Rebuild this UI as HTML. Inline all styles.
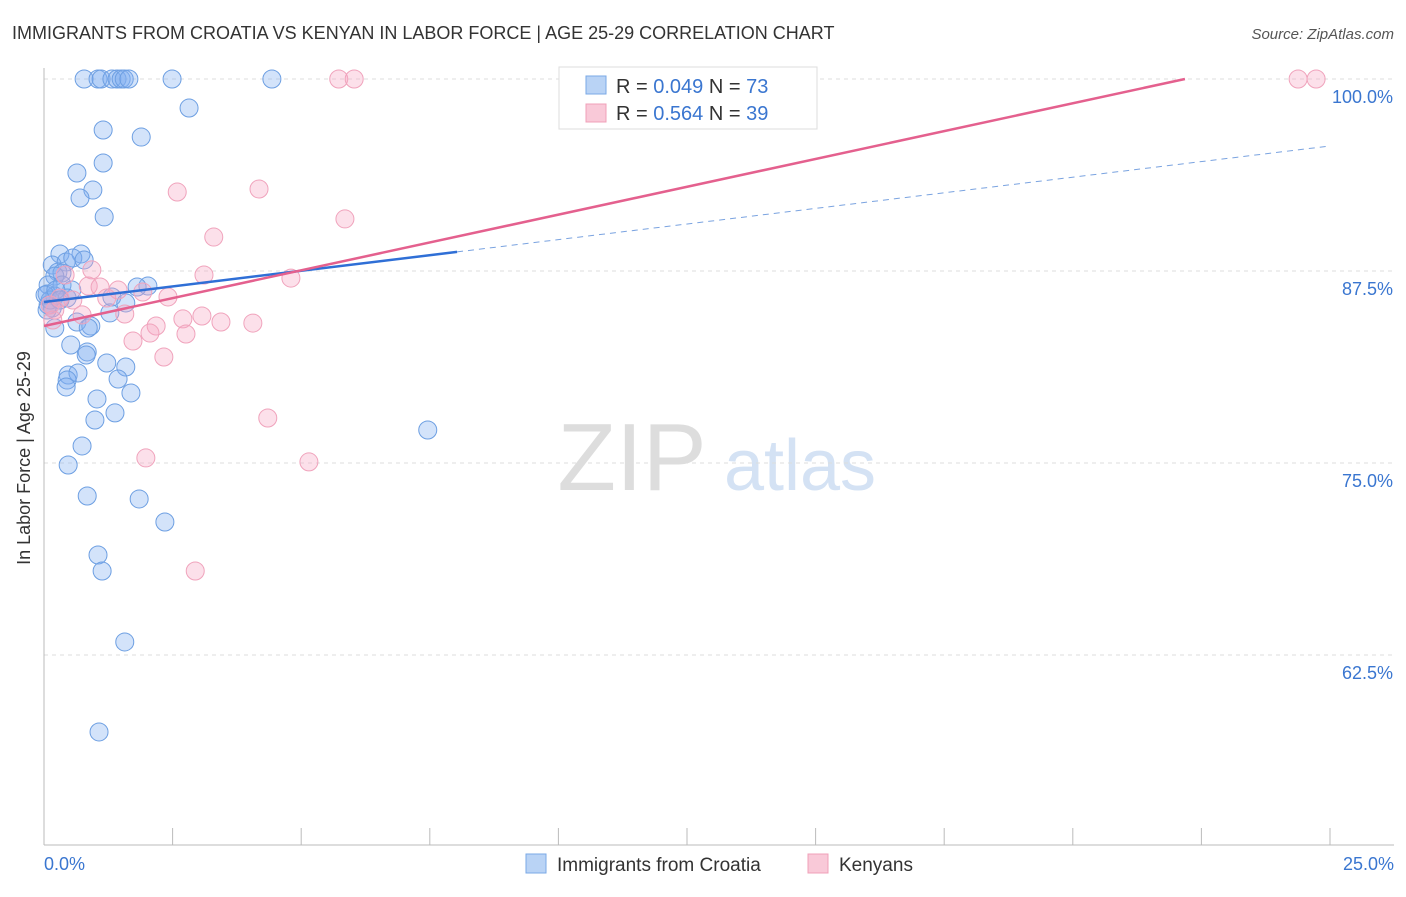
<!DOCTYPE html>
<html><head><meta charset="utf-8"><style>
body{margin:0;background:#fff;font-family:"Liberation Sans",sans-serif}
svg text{font-family:"Liberation Sans",sans-serif}
</style></head><body>
<svg id="chart" width="1406" height="892">
<text x="12" y="39" font-size="18" fill="#333">IMMIGRANTS FROM CROATIA VS KENYAN IN LABOR FORCE | AGE 25-29 CORRELATION CHART</text>
<text x="1394" y="39" font-size="15" fill="#555" font-style="italic" text-anchor="end">Source: ZipAtlas.com</text>
<text x="30" y="458" font-size="18" fill="#333" text-anchor="middle" transform="rotate(-90 30 458)">In Labor Force | Age 25-29</text>
<g>
<text x="632" y="490" font-size="96" fill="#ddd" text-anchor="middle" font-family="Liberation Serif">ZIP</text>
<text x="800" y="490" font-size="72" fill="#d4e2f4" text-anchor="middle">atlas</text>
</g>
<g id="grid"></g><g id="axes"></g><g id="pts"></g><g id="trends"></g>
<g>
<rect x="559" y="67" width="258" height="62" fill="#fff" stroke="#ddd"/>
<rect x="586" y="76" width="20" height="18" fill="#b9d3f5" stroke="#7aa8e6"/>
<text x="616" y="93" font-size="20" fill="#333">R = <tspan fill="#3a76d0">0.049</tspan>   N = <tspan fill="#3a76d0">73</tspan></text>
<rect x="586" y="104" width="20" height="18" fill="#f9c9d8" stroke="#f0a0b8"/>
<text x="616" y="120" font-size="20" fill="#333">R = <tspan fill="#3a76d0">0.564</tspan>   N = <tspan fill="#3a76d0">39</tspan></text>
</g>
<g>
<rect x="526" y="854" width="20" height="19" fill="#b9d3f5" stroke="#7aa8e6"/>
<text x="557" y="871" font-size="19" fill="#333">Immigrants from Croatia</text>
<rect x="808" y="854" width="20" height="19" fill="#f9c9d8" stroke="#f0a0b8"/>
<text x="839" y="871" font-size="19" fill="#333">Kenyans</text>
</g>
</svg>
<script>
const yTicks=[100,87.5,75,62.5];
const yTickLabels=["100.0%","87.5%","75.0%","62.5%"];
const xTickLabels=["0.0%","25.0%"];
const blueX=[0.78,1.05,1.11,1.32,1.42,1.50,1.56,1.65,2.49,4.43,2.82,1.15,1.89,1.15,0.64,0.95,0.70,1.17,0.31,0.72,0.16,0.43,0.56,0.78,0.27,0.35,0.21,0.08,0.35,0.54,2.02,1.81,0.06,0.21,0.45,1.32,1.59,0.08,0.16,1.28,0.21,0.64,0.91,0.86,0.52,0.84,0.82,1.22,1.59,0.47,0.66,0.45,1.44,0.43,1.69,1.03,1.38,0.99,0.74,0.47,7.46,0.84,1.85,2.35,1.05,1.13,1.57,1.07,0.06,0.12,0.02,0.23,0.31];
const blueY=[100,100,100,100,100,100,100,100,100,100,98.11,96.68,96.22,94.53,93.88,92.77,92.25,91.02,88.61,88.61,87.89,88.09,88.35,88.22,87.43,87.37,87.17,86.59,86.59,86.26,86.52,86.46,86.00,85.87,85.74,85.81,85.42,85.29,85.09,84.77,83.79,84.18,83.92,83.79,82.68,82.23,82.03,81.51,81.25,80.73,80.86,80.40,80.47,79.95,79.56,79.17,78.26,77.80,76.11,74.87,77.15,72.85,72.66,71.16,69.01,67.97,63.35,57.49,84.96,85.61,85.94,86.26,85.61];
const pinkX=[10.36,5.73,6.03,24.38,24.73,2.59,4.18,5.85,3.30,0.93,3.11,4.80,0.86,1.09,1.44,1.92,2.41,1.22,0.56,0.21,0.74,1.57,2.70,3.07,3.44,4.06,2.18,2.06,2.76,1.73,2.33,4.35,1.98,5.15,2.94,0.31,0.12,0.41,0.17];
const pinkY=[100,100,100,100,100,92.64,92.84,90.89,89.71,87.57,87.24,87.04,86.52,86.46,86.26,86.13,85.81,85.74,85.61,84.96,84.64,84.70,84.38,84.57,84.18,84.11,83.92,83.46,83.40,82.94,81.90,77.93,75.33,75.07,67.97,85.74,85.29,87.24,84.31];
const blueTrend=[85.48,95.64], blueSolidEnd=8.03;
const pinkTrend=[83.92,0.725], pinkEnd=22.18;
const X=v=>44+v/25*1286, Y=v=>79+(100-v)/12.5*192;
const NS="http://www.w3.org/2000/svg";
function mk(t,a,p){const e=document.createElementNS(NS,t);for(const k in a)e.setAttribute(k,a[k]);document.getElementById(p).appendChild(e);return e;}
yTicks.forEach((t,i)=>{
 const g=mk('line',{x1:44,x2:1394,y1:Y(t),y2:Y(t),stroke:'#ddd','stroke-dasharray':'4,4'},'grid');
 
 
 const l=mk('text',{x:1393,y:Y(t)+24,'font-size':18,fill:'#3a76d0','text-anchor':'end'},'axes');l.textContent=yTickLabels[i];
 
 
});
const ax=mk('line',{x1:44,x2:44,y1:68,y2:845,stroke:'#bbb'},'axes');


const bx=mk('line',{x1:44,x2:1394,y1:845,y2:845,stroke:'#bbb'},'axes');


for(let i=0;i<=10;i++){const t=mk('line',{x1:X(i*2.5),x2:X(i*2.5),y1:828,y2:845,stroke:'#bbb'},'axes');
 
 }
[[0,'start',44],[25,'end',1394]].forEach((d,i)=>{const t=mk('text',{x:d[2],y:870,'font-size':18,fill:'#3a76d0','text-anchor':d[1]},'axes');t.textContent=xTickLabels[i];
 
 });
blueX.forEach((x,i)=>{const c=mk('circle',{cx:X(x),cy:Y(blueY[i]),r:9,fill:'rgba(130,175,240,0.35)',stroke:'#6d9fe2','stroke-width':1},'pts');
 
 });
pinkX.forEach((x,i)=>{const c=mk('circle',{cx:X(x),cy:Y(pinkY[i]),r:9,fill:'rgba(245,165,195,0.35)',stroke:'#f0a3bc','stroke-width':1},'pts');
 
 });
const bAt=x=>blueTrend[0]+(blueTrend[1]-blueTrend[0])*x/25;
const b1=mk('line',{x1:X(0),y1:Y(bAt(0)),x2:X(blueSolidEnd),y2:Y(bAt(blueSolidEnd)),stroke:'#2f6fd6','stroke-width':2.5},'trends');


const b2=mk('line',{x1:X(blueSolidEnd),y1:Y(bAt(blueSolidEnd)),x2:X(25),y2:Y(bAt(25)),stroke:'#7aa3e0','stroke-width':1,'stroke-dasharray':'6,5'},'trends');


const p1=mk('line',{x1:X(0),y1:Y(pinkTrend[0]),x2:X(pinkEnd),y2:Y(pinkTrend[0]+pinkTrend[1]*pinkEnd),stroke:'#e4608e','stroke-width':2.5},'trends');


</script>
</body></html>
